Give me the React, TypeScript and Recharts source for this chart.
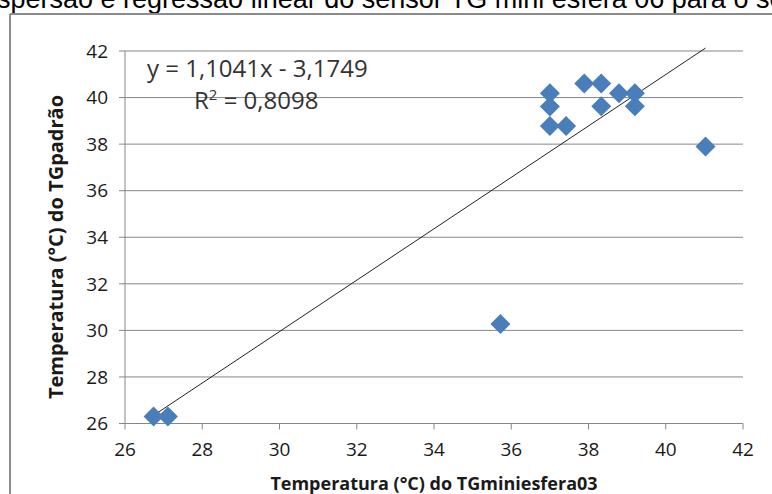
import React from 'react';
import { ScatterChart, Scatter, XAxis, YAxis, CartesianGrid, ReferenceLine, Label } from 'recharts';

const xValues = [26.74, 27.11, 35.72, 37.0, 37.0, 37.0, 37.42, 37.89, 38.33, 38.33, 38.79, 39.2, 39.2, 41.03];
const yValues = [26.3, 26.3, 30.27, 40.18, 39.62, 38.78, 38.78, 40.6, 40.6, 39.63, 40.18, 40.18, 39.63, 37.9];
const axisTicks = [26, 28, 30, 32, 34, 36, 38, 40, 42];
const slope = 1.1041;
const intercept = -3.1749;
const equationText = 'y = 1,1041x - 3,1749';
const r2Text = '0,8098';
const titleText = 'spersão e regressão linear do sensor TG mini esfera 06 para o se';
const xTitle = 'Temperatura (°C) do TGminiesfera03';
const yTitle = 'Temperatura (°C) do TGpadrão';

const points = xValues.map((x, i) => ({ x, y: yValues[i] }));
const xMin = Math.min(...xValues);
const xMax = Math.max(...xValues);
const trendSegment = [
  { x: xMin, y: slope * xMin + intercept },
  { x: xMax, y: slope * xMax + intercept },
];

const GRAY = '#868686';
const TICK_FONT = { fontSize: 19, fontFamily: 'Open Sans', fill: '#1a1a1a' };

const Diamond = (props: any) => {
  const { cx, cy } = props;
  const r = 10;
  return (
    <polygon
      points={`${cx},${cy - r} ${cx + r},${cy} ${cx},${cy + r} ${cx - r},${cy}`}
      fill="#4a7ebb"
    />
  );
};

export default function App() {
  return (
    <div style={{ position: 'absolute', left: 0, top: 0, width: 772, height: 494, background: '#fff' }}>
      <ScatterChart width={772} height={494} margin={{ top: 51, right: 29, bottom: 0, left: 0 }}>
        <CartesianGrid vertical={false} stroke={GRAY} strokeWidth={1} />
        <XAxis
          type="number"
          dataKey="x"
          domain={[26, 42]}
          ticks={axisTicks}
          height={70.5}
          stroke={GRAY}
          tickSize={6}
          tickMargin={13}
          tick={TICK_FONT}
        >
          <Label
            content={() => (
              <text x={434} y={490} textAnchor="middle" fontFamily="Open Sans" fontWeight="bold" fontSize={18} fill="#1a1a1a">
                {xTitle}
              </text>
            )}
          />
        </XAxis>
        <YAxis
          type="number"
          dataKey="y"
          domain={[26, 42]}
          ticks={axisTicks}
          width={125}
          stroke={GRAY}
          tickSize={6}
          tickMargin={11}
          tick={TICK_FONT}
        >
          <Label
            content={() => (
              <text
                x={55}
                y={247}
                transform="rotate(-90 55 247)"
                textAnchor="middle"
                dominantBaseline="central"
                fontFamily="Open Sans"
                fontWeight="bold"
                fontSize={20}
                fill="#1a1a1a"
              >
                {yTitle}
              </text>
            )}
          />
        </YAxis>
        <Scatter data={points} shape={<Diamond />} isAnimationActive={false} />
        <ReferenceLine segment={trendSegment} ifOverflow="visible" stroke="#222" strokeWidth={1} />
      </ScatterChart>
      <svg
        width={772}
        height={494}
        style={{ position: 'absolute', left: 0, top: 0, pointerEvents: 'none' }}
      >
        <text x={-3} y={8} fontFamily="Liberation Sans" fontSize={27} fill="#000">
          {titleText}
        </text>
        <line x1={10} y1={14} x2={772} y2={14} stroke="#8c8c8c" strokeWidth={2} />
        <line x1={10} y1={14} x2={10} y2={494} stroke="#8c8c8c" strokeWidth={2} />
        <text x={147} y={77} fontFamily="Open Sans" fontSize={24} fill="#333">
          {equationText}
        </text>
        <text x={194} y={109} fontFamily="Open Sans" fontSize={24} fill="#333">
          R<tspan fontSize={15} dy={-9}>2</tspan>
          <tspan dy={9}>{' = ' + r2Text}</tspan>
        </text>
      </svg>
    </div>
  );
}
